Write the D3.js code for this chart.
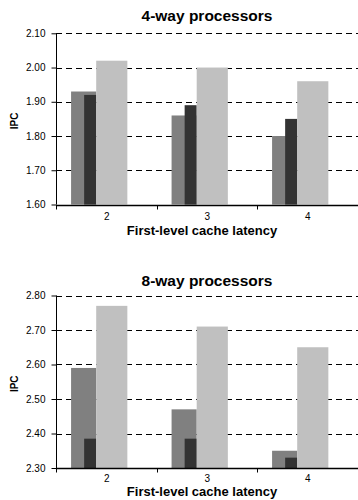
<!DOCTYPE html>
<html>
<head>
<meta charset="utf-8">
<script src="https://cdn.jsdelivr.net/npm/d3@7"></script>
<style>
  html, body { margin: 0; padding: 0; background: #fff; }
  svg { display: block; font-family: "Liberation Sans", Arial, Helvetica, sans-serif; }
</style>
</head>
<body>
<svg id="chart" width="358" height="500"></svg>
<script>
// First-level cache latency (cycles)
const latencies = ["2", "3", "4"];

// IPC for 4-way processors, three configurations per latency
const ipc4wayA = [1.93, 1.86, 1.80];
const ipc4wayB = [1.92, 1.89, 1.85];
const ipc4wayC = [2.02, 2.00, 1.96];

// IPC for 8-way processors
const ipc8wayA = [2.59, 2.47, 2.35];
const ipc8wayB = [2.385, 2.385, 2.33];
const ipc8wayC = [2.77, 2.71, 2.65];

const ticks4way = [1.60, 1.70, 1.80, 1.90, 2.00, 2.10];
const ticks8way = [2.30, 2.40, 2.50, 2.60, 2.70, 2.80];

const titles = ["4-way processors", "8-way processors"];
const xTitle = "First-level cache latency";
const yTitle = "IPC";

const colors = { a: "#808080", b: "#333333", c: "#c0c0c0" };

const svg = d3.select("#chart");

function drawPanel(opts) {
  const { top, bottom, ticks, seriesA, seriesB, seriesC, title, titleY, tickY, labelY } = opts;
  const left = 56, right = 357.5;

  const x = d3.scaleBand().domain(latencies).range([left, right]).padding(0);
  const y = d3.scaleLinear().domain([ticks[0], ticks[ticks.length - 1]]).range([bottom, top]);
  const bw = x.bandwidth();

  const g = svg.append("g");

  // dashed horizontal gridlines
  g.append("g").selectAll("line")
    .data(ticks.slice(1))
    .join("line")
    .attr("x1", left).attr("x2", 358)
    .attr("y1", d => Math.round(y(d)) + 0.5).attr("y2", d => Math.round(y(d)) + 0.5)
    .attr("stroke", "#000").attr("stroke-width", 1)
    .attr("stroke-dasharray", "6,4");

  // bars: medium grey first, dark overlapping its right part, light grey next to them
  const base = y(ticks[0]);
  g.append("g").selectAll("rect")
    .data(seriesA)
    .join("rect")
    .attr("x", (d, i) => x(latencies[i]) + bw * 0.15)
    .attr("width", bw * 0.25)
    .attr("y", d => y(d)).attr("height", d => base - y(d))
    .attr("fill", colors.a);

  g.append("g").selectAll("rect")
    .data(seriesB)
    .join("rect")
    .attr("x", (d, i) => x(latencies[i]) + bw * 0.28)
    .attr("width", bw * 0.12)
    .attr("y", d => y(d)).attr("height", d => base - y(d))
    .attr("fill", colors.b);

  g.append("g").selectAll("rect")
    .data(seriesC)
    .join("rect")
    .attr("x", (d, i) => x(latencies[i]) + bw * 0.40)
    .attr("width", bw * 0.31)
    .attr("y", d => y(d)).attr("height", d => base - y(d))
    .attr("fill", colors.c);

  // y axis
  const yAxis = d3.axisLeft(y).tickValues(ticks).tickFormat(d3.format(".2f")).tickSize(5).tickPadding(6);
  const ya = g.append("g").attr("transform", `translate(${left + 0.5},0)`).call(yAxis);
  ya.select(".domain").attr("d", `M0,${top}V${bottom}`).attr("stroke", "#000");
  ya.selectAll(".tick line").attr("stroke", "#000");
  ya.selectAll(".tick text").attr("font-size", 10).attr("fill", "#000")
    .attr("font-family", "Liberation Sans, Arial, sans-serif");

  // x axis with ticks at category boundaries
  const boundaries = latencies.map(c => x(c)).concat([right]);
  const xa = g.append("g").attr("transform", `translate(0,${Math.round(bottom) + 0.5})`);
  xa.append("line").attr("x1", left).attr("x2", 358).attr("stroke", "#000").attr("stroke-width", 1.5);
  xa.selectAll("line.tk").data(boundaries).join("line").attr("class", "tk")
    .attr("x1", d => Math.round(d) + 0.5).attr("x2", d => Math.round(d) + 0.5)
    .attr("y1", 0).attr("y2", 4).attr("stroke", "#000");
  xa.selectAll("text").data(latencies).join("text")
    .attr("x", d => x(d) + bw / 2 + 0.5)
    .attr("y", tickY)
    .attr("text-anchor", "middle").attr("font-size", 10).attr("fill", "#000")
    .text(d => d);

  // axis titles
  g.append("text")
    .attr("x", 202).attr("y", bottom + labelY)
    .attr("text-anchor", "middle").attr("font-size", 13).attr("font-weight", "bold")
    .text(xTitle);

  g.append("text")
    .attr("transform", `translate(18,${(top + bottom) / 2 + 2}) rotate(-90)`)
    .attr("text-anchor", "middle").attr("font-size", 10).attr("font-weight", "bold")
    .text(yTitle);

  // panel title
  g.append("text")
    .attr("x", 207).attr("y", titleY)
    .attr("text-anchor", "middle").attr("font-size", 15.5).attr("font-weight", "bold")
    .text(title);
}

drawPanel({ top: 33.3, bottom: 204.5, ticks: ticks4way,
  seriesA: ipc4wayA, seriesB: ipc4wayB, seriesC: ipc4wayC, title: titles[0], titleY: 21,
  tickY: 14.5, labelY: 30 });

drawPanel({ top: 295.5, bottom: 468, ticks: ticks8way,
  seriesA: ipc8wayA, seriesB: ipc8wayB, seriesC: ipc8wayC, title: titles[1], titleY: 285.5,
  tickY: 13.5, labelY: 27.5 });
</script>
</body>
</html>
